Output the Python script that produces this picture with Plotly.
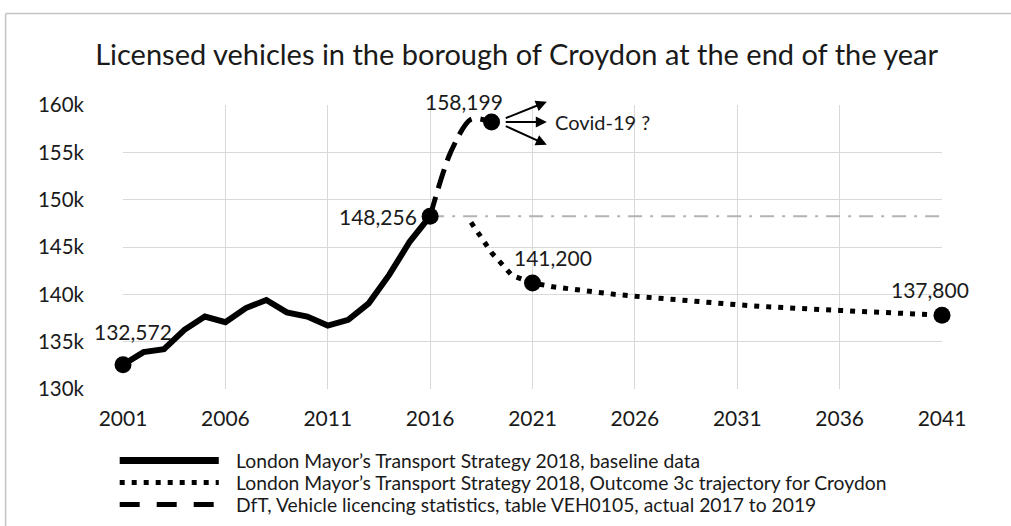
import plotly.graph_objects as go

# ---------------- data ----------------
years_base = list(range(2001, 2017))
baseline = [132572, 133900, 134200, 136250, 137650, 137050, 138550, 139400,
            138100, 137650, 136700, 137300, 139050, 142050, 145550, 148256]

years_dft = [2016, 2017, 2018, 2019]
dft = [148256, 155000, 158500, 158199]

years_traj = list(range(2018, 2042))
traj = [147600, 144400, 142000, 141200, 140800, 140500, 140200, 140000,
        139800, 139600, 139400, 139200, 139050, 138900, 138750, 138600,
        138500, 138400, 138300, 138200, 138100, 138000, 137900, 137800]

x_ticks = [2001, 2006, 2011, 2016, 2021, 2026, 2031, 2036, 2041]
y_ticks = [130000, 135000, 140000, 145000, 150000, 155000, 160000]
y_ticktext = ["130k", "135k", "140k", "145k", "150k", "155k", "160k"]

title = "Licensed vehicles in the borough of Croydon at the end of the year"
legend_names = [
    "London Mayor\u2019s Transport Strategy 2018, baseline data",
    "London Mayor\u2019s Transport Strategy 2018, Outcome 3c trajectory for Croydon",
    "DfT, Vehicle licencing statistics, table VEH0105, actual 2017 to 2019",
]
covid_text = "Covid-19 ?"

FONT = "Lato"
INK = "#1a1a1a"

fig = go.Figure()

# horizontal reference (dash-dot grey) at the 2016 level
fig.add_trace(go.Scatter(x=[years_base[-1], x_ticks[-1]], y=[baseline[-1], baseline[-1]],
                         mode="lines", line=dict(color="#b3b3b3", width=2,
                                                 dash="14px,8px,3px,8px"),
                         showlegend=False, hoverinfo="skip"))

# trajectory (dotted)
fig.add_trace(go.Scatter(x=years_traj, y=traj, mode="lines", name=legend_names[1],
                         line=dict(color="black", width=5, dash="5px,7px"),
                         showlegend=False))
# DfT (dashed)
fig.add_trace(go.Scatter(x=years_dft, y=dft, mode="lines", name=legend_names[2],
                         line=dict(color="black", width=5, dash="20px,9px", shape="spline",
                                   smoothing=0.8),
                         showlegend=False))
# baseline (solid)
fig.add_trace(go.Scatter(x=years_base, y=baseline, mode="lines", name=legend_names[0],
                         line=dict(color="black", width=6),
                         showlegend=False))

# key points
key_x = [years_base[0], years_base[-1], years_dft[-1], years_traj[3], years_traj[-1]]
key_y = [baseline[0], baseline[-1], dft[-1], traj[3], traj[-1]]
fig.add_trace(go.Scatter(x=key_x, y=key_y, mode="markers",
                         marker=dict(color="black", size=17),
                         cliponaxis=False, showlegend=False, hoverinfo="skip"))

# value labels
label_shift = [(10, 33), (-52, 0), (-28, 21), (20, 25), (-12, 26)]
for (kx, ky), (dx, dy) in zip(zip(key_x, key_y), label_shift):
    fig.add_annotation(x=kx, y=ky, text=f"{ky:,}", showarrow=False,
                       xshift=dx, yshift=dy,
                       font=dict(family=FONT, size=21, color=INK))

# covid arrows
tail_x = years_dft[-1] + 0.62
head_x = years_dft[-1] + 2.7
for tail_dy, head_dy in [(350, 2150), (0, 0), (-350, -2400)]:
    fig.add_annotation(x=head_x, y=dft[-1] + head_dy, ax=tail_x, ay=dft[-1] + tail_dy,
                       xref="x", yref="y", axref="x", ayref="y",
                       showarrow=True, arrowhead=2, arrowsize=1.1, arrowwidth=2,
                       arrowcolor="black", text="")
fig.add_annotation(x=years_dft[-1] + 3.0, y=dft[-1], text=covid_text, showarrow=False,
                   xanchor="left", font=dict(family=FONT, size=20, color=INK))

# ---------------- manual legend ----------------
L, R = 123.3, 941.7
T, B = 105.0, 389.3
def px(xpix):
    return (xpix - L) / (R - L)
def py(ypix):
    return (B - ypix) / (B - T)

legend_rows = [461, 483, 505]
legend_styles = [dict(width=7, dash="solid"),
                 dict(width=5, dash="5px,7px"),
                 dict(width=5, dash="20px,17px")]
shapes = []
for name, row, st in zip(legend_names, legend_rows, legend_styles):
    shapes.append(dict(type="line", xref="paper", yref="paper",
                       x0=px(120), x1=px(219), y0=py(row), y1=py(row),
                       line=dict(color="black", width=st["width"], dash=st["dash"])))
    fig.add_annotation(xref="paper", yref="paper", x=px(234), y=py(row), text=name,
                       showarrow=False, xanchor="left", yanchor="middle",
                       font=dict(family=FONT, size=19.3, color=INK))

# chart-area border (top and left)
shapes.append(dict(type="line", xref="paper", yref="paper", x0=px(6), x1=px(1020),
                   y0=py(13.5), y1=py(13.5), line=dict(color="#c4c4c4", width=1.5)))
shapes.append(dict(type="line", xref="paper", yref="paper", x0=px(6), x1=px(6),
                   y0=py(13.5), y1=py(540), line=dict(color="#c4c4c4", width=1.5)))

fig.update_layout(
    width=1011, height=526,
    margin=dict(l=L, r=1011 - R, t=T, b=526 - B),
    paper_bgcolor="white", plot_bgcolor="white",
    title=dict(text=title, x=0.511, xanchor="center", y=1 - 55 / 526, yanchor="middle",
               font=dict(family=FONT, size=29, color=INK)),
    showlegend=False,
    shapes=shapes,
    xaxis=dict(range=[2001, 2041], tickvals=x_ticks, showgrid=True, gridcolor="#d9d9d9",
               gridwidth=1, zeroline=False, showline=False, ticks="",
               ticklabelstandoff=15,
               tickfont=dict(family=FONT, size=21, color=INK)),
    yaxis=dict(range=[130000, 160000], tickvals=y_ticks, ticktext=y_ticktext,
               showgrid=True, gridcolor="#d9d9d9", gridwidth=1, zeroline=False,
               showline=False, ticks="", ticklabelstandoff=38,
               tickfont=dict(family=FONT, size=20.5, color=INK)),
)

fig.write_html("out.html", config={"displayModeBar": False},
               post_script="document.body.style.margin='0px';document.body.style.overflow='hidden';")
